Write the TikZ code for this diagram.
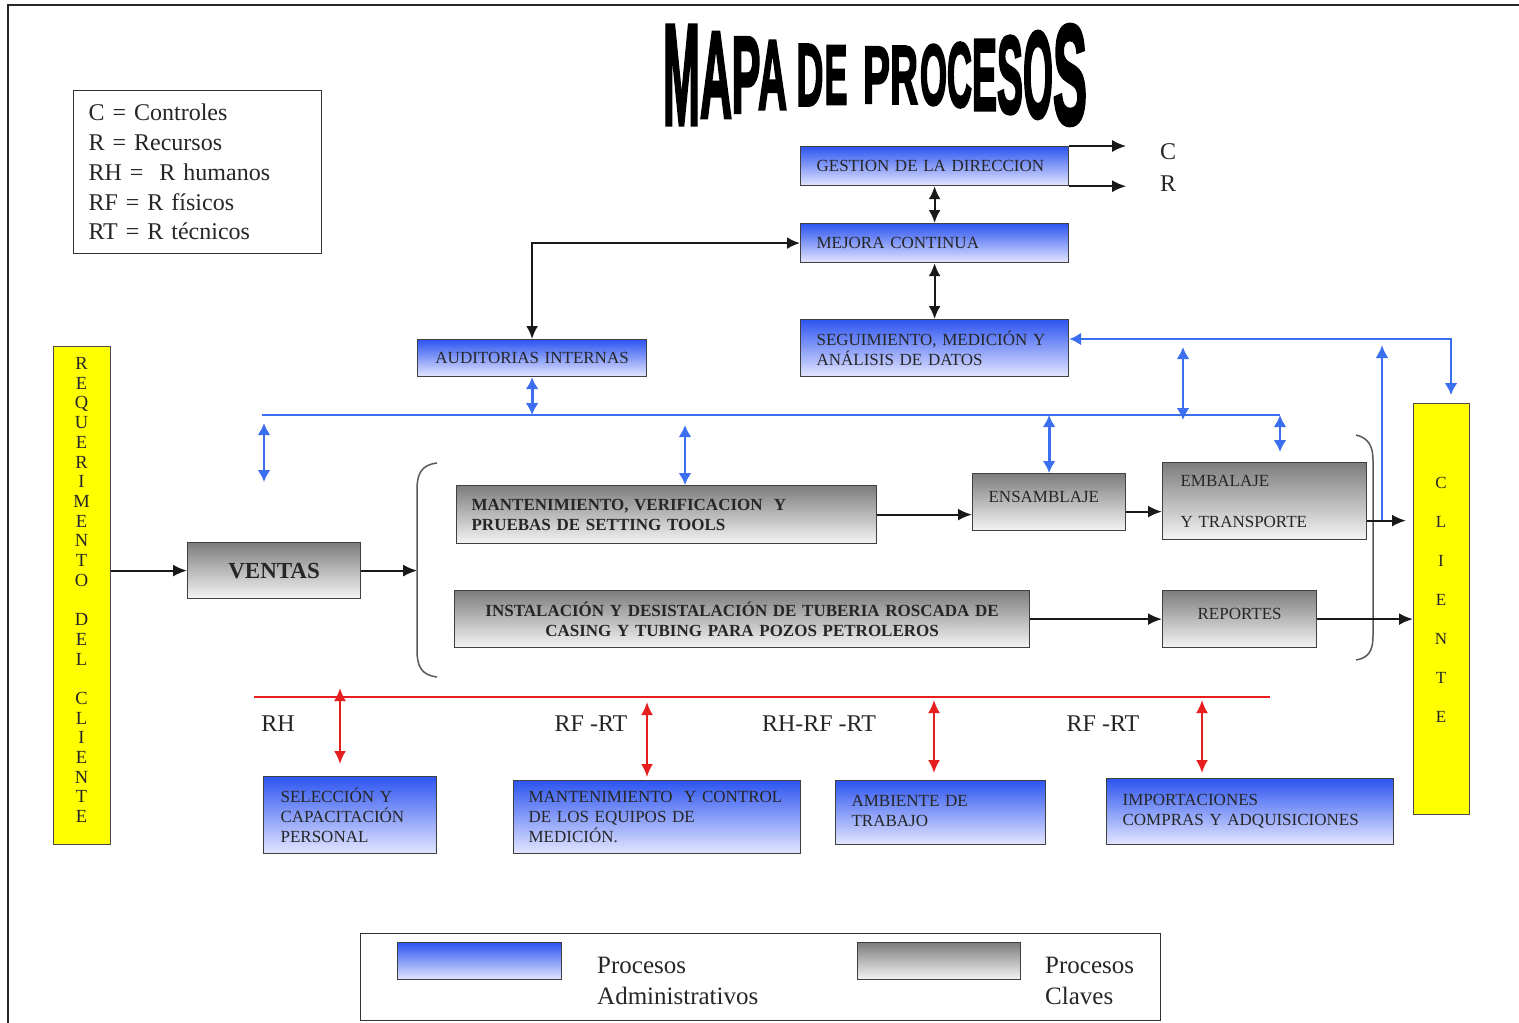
\documentclass[tikz,border=0pt]{standalone}
\usepackage{fontspec}
\usepackage{graphicx}
\setmainfont{Liberation Serif}
\newfontfamily\titlefont{Liberation Sans}[BoldFeatures={FakeBold=3}]
\usetikzlibrary{arrows.meta}
\definecolor{admtop}{RGB}{45,85,240}
\definecolor{admbot}{RGB}{228,230,255}
\definecolor{keytop}{RGB}{125,125,125}
\definecolor{keybot}{RGB}{245,245,245}
\definecolor{arblue}{RGB}{60,110,240}
\definecolor{arred}{RGB}{230,30,30}
\definecolor{yel}{RGB}{255,255,0}
\newcommand\bxfont{\fontsize{17}{20}\selectfont}
\newcommand\bgfont{\fontsize{24}{29.75}\selectfont}
\begin{document}
\begin{tikzpicture}[x=1pt,y=-1pt,
  admproc/.style={draw=black!75, line width=1.2pt, top color=admtop, bottom color=admbot,
    anchor=north west, inner xsep=16pt, inner ysep=0pt, align=left, font=\bxfont, text=black!85},
  keyproc/.style={admproc, top color=keytop, bottom color=keybot},
  yelbox/.style={draw=black!70, line width=1.2pt, fill=yel, anchor=north west, inner sep=0pt},
  lbl/.style={font=\bgfont, text=black!85, inner sep=0pt},
  blkarr/.style={line width=2.2pt, black!90, -{Latex[length=14pt,width=12pt]}},
  blkdbl/.style={line width=2.2pt, black!90, {Latex[length=13pt,width=12pt]}-{Latex[length=13pt,width=12pt]}},
  bluarr/.style={line width=2.8pt, arblue, -{Latex[length=13pt,width=13pt]}},
  bludbl/.style={line width=2.8pt, arblue, {Latex[length=12pt,width=13pt]}-{Latex[length=12pt,width=13pt]}},
  bluline/.style={line width=1.8pt, arblue},
  redline/.style={line width=1.8pt, arred},
  reddbl/.style={line width=2.2pt, arred, {Latex[length=13pt,width=12pt]}-{Latex[length=13pt,width=12pt]}},
  bracestyle/.style={line width=1.5pt, black!65}
]
\useasboundingbox (0,0) rectangle (1519,1023);
\fill[white] (0,0) rectangle (1519,1023);
% outer frame
\draw[line width=2.5pt, black!85] (8,1023) -- (8,5) -- (1519,5);

% title
\foreach \l/\c/\w/\h [count=\i] in {M/681.5/37/99, A/716/32/85, P/746/29/75, A/772.5/29/68,
    D/810/27/61, E/836/23/58, P/876.5/27/56, R/904/28/57, O/933.5/27/60, C/959.5/25/64,
    E/984.5/25/70, S/1010/26/77, O/1038/30/86, S/1070/34/99}
  \node[inner sep=0pt] (title\i) at (\c,75) {\resizebox{\w pt}{\h pt}{\titlefont\bfseries \l}};

% legend top-left
\node[draw=black!80, line width=1.2pt, anchor=north west, minimum height=163pt,
  inner xsep=15pt, inner ysep=0pt, text width=218pt, align=left, font=\bgfont, text=black!85]
  (legend) at (73,90) {C = Controles\\R = Recursos\\RH = \ R humanos\\RF = R físicos\\RT = R técnicos};

% administrative boxes (top)
\node[admproc, text width=236pt, minimum height=39pt] (gestion) at (800,146) {GESTION DE LA DIRECCION};
\node[admproc, text width=236pt, minimum height=39pt] (mejora) at (800,223) {MEJORA CONTINUA};
\node[admproc, text width=236pt, minimum height=57pt] (seguim) at (800,319) {SEGUIMIENTO, MEDICIÓN Y\\ANÁLISIS DE DATOS};
\node[admproc, text width=197pt, minimum height=37pt, align=center] (audit) at (417,339) {AUDITORIAS INTERNAS};

% key processes
\node[keyproc, text width=141pt, minimum height=56pt, align=center, font=\fontsize{23}{26}\selectfont\bfseries] (ventas) at (187,542) {VENTAS};
\node[keyproc, inner xsep=15pt, text width=390pt, minimum height=58pt, font=\bxfont\bfseries] (mant) at (456,485) {MANTENIMIENTO, VERIFICACION\ \ Y\\PRUEBAS DE SETTING TOOLS};
\node[keyproc, text width=121pt, minimum height=57pt] (ensam) at (972,473) {\raisebox{10pt}{ENSAMBLAJE}};
\node[keyproc, inner xsep=18pt, text width=168pt, minimum height=77pt] (embal) at (1162,462) {EMBALAJE\\[21pt]Y TRANSPORTE};
\node[keyproc, text width=543pt, minimum height=57pt, align=center, font=\bxfont\bfseries] (instal) at (454,590) {INSTALACIÓN Y DESISTALACIÓN DE TUBERIA ROSCADA DE\\CASING Y TUBING PARA POZOS PETROLEROS};
\node[keyproc, text width=122pt, minimum height=57pt, align=center] (report) at (1162,590) {\raisebox{10pt}{REPORTES}};

% resource boxes (bottom)
\node[admproc, inner xsep=17pt, text width=139pt, minimum height=77pt] (selec) at (263,776) {SELECCIÓN Y\\CAPACITACIÓN\\PERSONAL};
\node[admproc, inner xsep=15pt, text width=257pt, minimum height=73pt] (mantc) at (513,780) {MANTENIMIENTO\ \ Y CONTROL\\DE LOS EQUIPOS DE\\MEDICIÓN.};
\node[admproc, text width=178pt, minimum height=64pt] (amb) at (835,780) {\raisebox{5pt}{\begin{tabular}{@{}l@{}}AMBIENTE DE\\TRABAJO\end{tabular}}};
\node[admproc, text width=255pt, minimum height=66pt] (imp) at (1106,778) {\raisebox{5pt}{\begin{tabular}{@{}l@{}}IMPORTACIONES\\COMPRAS Y ADQUISICIONES\end{tabular}}};

% yellow boxes
\node[yelbox, minimum width=57pt, minimum height=498pt] (req) at (53,346) {};
\node[inner sep=0pt, align=center, font=\fontsize{18.5}{19.7}\selectfont, text=black!85] (reqtxt) at (81.5,590)
  {R\\E\\Q\\U\\E\\R\\I\\M\\E\\N\\T\\O\\[19.7pt]D\\E\\L\\[19.7pt]C\\L\\I\\E\\N\\T\\E};
\node[yelbox, minimum width=56pt, minimum height=411pt] (cliente) at (1413,403) {};
\node[inner sep=0pt, align=center, font=\fontsize{17}{39}\selectfont, text=black!85] (clitxt) at (1441,600)
  {C\\L\\I\\E\\N\\T\\E};

% labels
\node[lbl] (labC) at (1168,152) {C};
\node[lbl] (labR) at (1168,184) {R};
\node[lbl] (labRH) at (278,724) {RH};
\node[lbl] (labRF1) at (591,724) {RF -RT};
\node[lbl] (labRHRF) at (819,724) {RH-RF -RT};
\node[lbl] (labRF2) at (1103,724) {RF -RT};

% bottom legend
\node[draw=black!80, line width=1.2pt, anchor=north west, minimum width=800pt, minimum height=87pt, inner sep=0pt] (keybox) at (360,933) {};
\node[admproc, minimum width=164pt, minimum height=37pt, inner sep=0pt] (swA) at (397,942) {};
\node[keyproc, minimum width=163pt, minimum height=37pt, inner sep=0pt] (swK) at (857,942) {};
\node[anchor=west, align=left, font=\fontsize{25}{31}\selectfont, text=black!85, inner sep=0pt] (txA) at (597,981) {Procesos\\Administrativos};
\node[anchor=west, align=left, font=\fontsize{25}{31}\selectfont, text=black!85, inner sep=0pt] (txK) at (1045,981) {Procesos\\Claves};

% braces
\draw[bracestyle] (437,463) .. controls (421,465) and (417,474) .. (417,490) -- (417,650) .. controls (417,666) and (421,675) .. (437,677);
\draw[bracestyle] (1356,435) .. controls (1369,438) and (1373,447) .. (1373,460) -- (1373,636) .. controls (1373,650) and (1369,658) .. (1356,660);

% black connectors
\coordinate (cEnd) at ([xshift=57pt]gestion.north east);
\coordinate (rEnd) at ([xshift=57pt]gestion.south east);
\draw[blkarr] (gestion.north east) -- (cEnd);
\draw[blkarr] (gestion.south east) -- (rEnd);
\draw[blkdbl] (gestion.south) -- (mejora.north);
\draw[blkdbl] (mejora.south) -- (seguim.north);
\draw[blkdbl] (audit.north) |- (mejora.west);
\draw[blkarr] (req.east |- ventas.west) -- (ventas.west);
\coordinate (brL) at ([xshift=56pt]ventas.east);
\draw[blkarr] (ventas.east) -- (brL);
\draw[blkarr] (mant.east) -- (mant.east -| ensam.west);
\coordinate (ea) at ([yshift=-9.5pt]ensam.east);
\draw[blkarr] (ea) -- (ea -| embal.west);
\coordinate (eb) at ([yshift=-19.5pt]embal.east);
\draw[blkarr, shorten >=7pt] (eb) -- (eb -| cliente.west);
\draw[blkarr] (instal.east) -- (report.west);
\draw[blkarr] (report.east) -- (report.east -| cliente.west);

% blue connectors
\coordinate (bl1) at (262,415);
\coordinate (bl2) at (1280,415);
\coordinate (bl2b) at (1280,452);
\draw[bluline] (bl1) -- (bl2);
\draw[bludbl] (bl2) -- (bl2b);
\draw[bludbl] (audit.south) -- (audit.south |- bl1);
\coordinate (b264a) at (264,423);
\coordinate (b264b) at (264,482);
\draw[bludbl] (b264a) -- (b264b);
\coordinate (b685) at (685,425);
\draw[bludbl] (b685) -- (b685 |- mant.north);
\draw[bludbl] (ensam.north |- bl1) -- (ensam.north);
\coordinate (b1183a) at (1183,347);
\coordinate (b1183b) at (1183,420);
\draw[bludbl] (b1183a) -- (b1183b);
\coordinate (cl1) at (1451,339);
\draw[bludbl, shorten >=8pt] (seguim.east |- cl1) -- (cl1) -- (cl1 |- cliente.north);
\coordinate (up1) at (1382,520);
\coordinate (up2) at (1382,345);
\draw[bluarr] (up1) -- (up2);

% red connectors
\coordinate (rl1) at (254,697);
\coordinate (rl2) at (1270,697);
\draw[redline] (rl1) -- (rl2);
\coordinate (r1) at (340,688);
\draw[reddbl, shorten >=12pt] (r1) -- (r1 |- selec.north);
\coordinate (r2) at (647,702);
\draw[reddbl, shorten >=3pt] (r2) -- (r2 |- mantc.north);
\coordinate (r3) at (934,700);
\draw[reddbl, shorten >=7pt] (r3) -- (r3 |- amb.north);
\coordinate (r4) at (1202,700);
\draw[reddbl, shorten >=5pt] (r4) -- (r4 |- imp.north);
\end{tikzpicture}
\end{document}
